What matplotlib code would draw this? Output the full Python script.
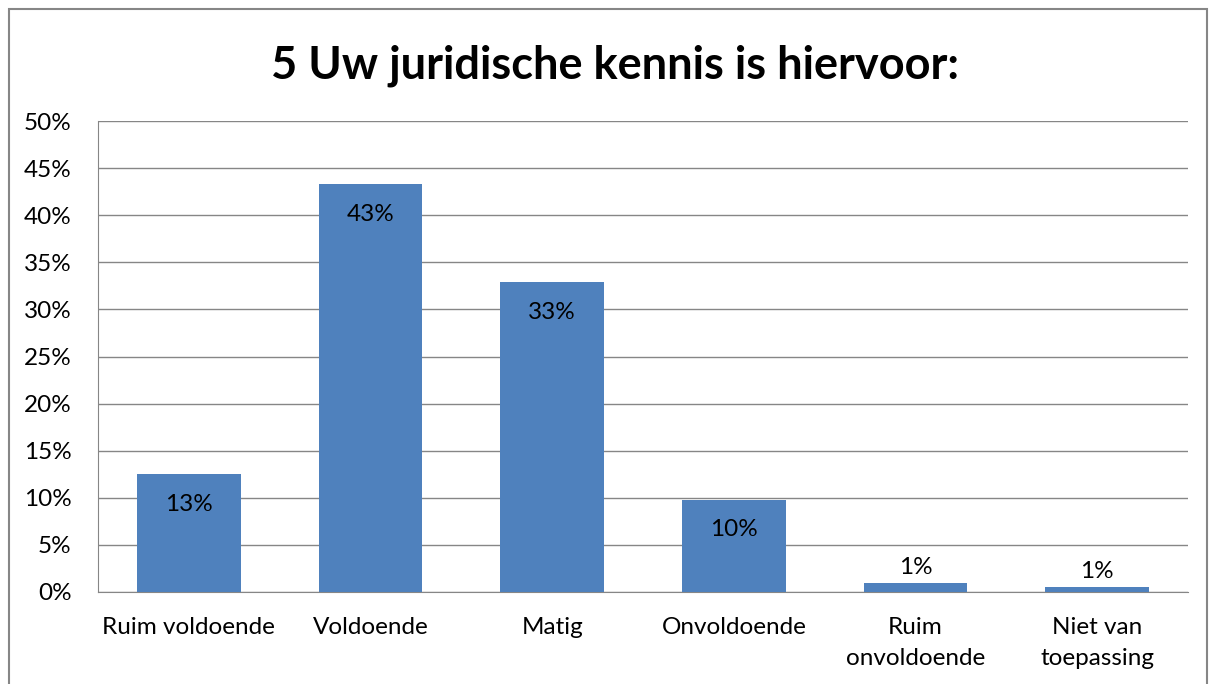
import matplotlib
matplotlib.use("Agg")
from matplotlib import pyplot as plt
from matplotlib.patches import Rectangle

# data
categories = ["Ruim voldoende", "Voldoende", "Matig", "Onvoldoende",
              "Ruim\nonvoldoende", "Niet van\ntoepassing"]
values = [12.5, 43.3, 32.9, 9.8, 0.95, 0.5]
labels = ["13%", "43%", "33%", "10%", "1%", "1%"]
yticks = [0, 5, 10, 15, 20, 25, 30, 35, 40, 45, 50]

plt.rcParams['font.family'] = ['Lato', 'DejaVu Sans']

fig = plt.figure(figsize=(12.15, 6.84), dpi=100)
ax = fig.add_axes([98/1215, 1-592/684, 1090/1215, 471/684])

x = range(len(categories))
bars = ax.bar(x, values, width=0.57, color='#4F81BD', zorder=3)

fs = 17.5
for xi, v, lab in zip(x, values, labels):
    if v > 5:
        ax.text(xi, v - 3.2, lab, ha='center', va='center', fontsize=fs, color='black', zorder=4)
    else:
        ax.text(xi, v + 1.7, lab, ha='center', va='center', fontsize=fs, color='black', zorder=4)

ax.set_xlim(-0.5, len(categories) - 0.5)
ax.set_ylim(0, 50)
ax.set_yticks(yticks)
ax.set_yticklabels([f"{t}%" for t in yticks])
ax.set_xticks(list(x))
ax.set_xticklabels(categories, linespacing=1.6)
ax.tick_params(axis='both', length=0, labelsize=fs, colors='black')
ax.tick_params(axis='x', pad=18)
ax.tick_params(axis='y', pad=19)

ax.grid(axis='y', color='#868686', linewidth=1, zorder=0)
for s in ['top', 'right']:
    ax.spines[s].set_visible(False)
ax.spines['left'].set_color('#868686')
ax.spines['bottom'].set_color('#868686')

fig.text(615/1215, 1-66/684, "5 Uw juridische kennis is hiervoor:", ha='center', va='center',
         fontsize=32.5, fontweight='bold')

# chart border
fig.patches.append(Rectangle((9/1215, -0.1), 1198/1215, 1.1 - 9/684, transform=fig.transFigure,
                             fill=False, edgecolor='#868686', linewidth=1.5))

fig.savefig("out.png", dpi=100)
